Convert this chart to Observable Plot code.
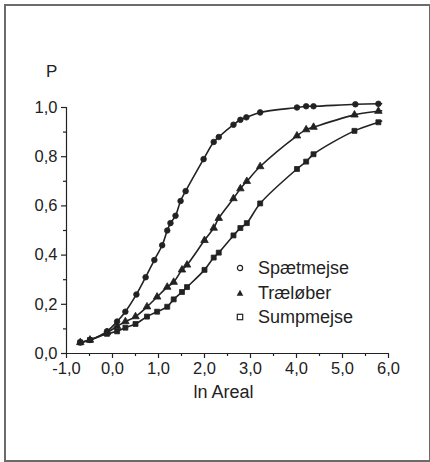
<!DOCTYPE html>
<html>
<head>
<meta charset="utf-8">
<script src="https://cdn.jsdelivr.net/npm/d3@7"></script>
<script src="https://cdn.jsdelivr.net/npm/@observablehq/plot@0.6"></script>
<style>
  html, body { margin: 0; padding: 0; background: #fff; }
  #wrap { position: relative; width: 430px; height: 462px; overflow: hidden; font-family: "Liberation Sans", Arial, sans-serif; }
  #frame { position: absolute; left: 4px; top: 4px; width: 427px; height: 458px; box-sizing: border-box; border: 2px solid #6b6b6b; }
  #ylab { position: absolute; left: 46px; top: 62px; font-size: 17px; color: #222; }
  #legend { position: absolute; left: 236px; top: 256px; font-size: 18px; color: #222; line-height: 24.5px; }
  #legend div { display: flex; align-items: center; }
  #legend svg { margin-right: 14px; }
</style>
</head>
<body>
<div id="wrap">
  <div id="frame"></div>
  <div id="chart"></div>
  <div id="ylab">P</div>
  <div id="legend"></div>
</div>
<script>
// Series names
const seriesNames = ["Spætmejse", "Træløber", "Sumpmejse"];

// Spætmejse (circles)
const spaetX = [-0.70, -0.49, -0.12, 0.10, 0.28, 0.52, 0.72, 0.91, 1.08, 1.19, 1.26, 1.37, 1.48, 1.59, 1.98, 2.20, 2.31, 2.63, 2.78, 2.91, 3.21, 4.01, 4.21, 4.37, 5.28, 5.78, 5.85];
const spaetY = [0.045, 0.055, 0.09, 0.13, 0.17, 0.24, 0.31, 0.38, 0.44, 0.50, 0.53, 0.56, 0.62, 0.66, 0.79, 0.86, 0.88, 0.93, 0.95, 0.96, 0.98, 1.00, 1.005, 1.005, 1.013, 1.015, 1.015];

// Træløber (triangles)
const traeX = [-0.70, -0.49, -0.12, 0.10, 0.28, 0.50, 0.75, 0.97, 1.19, 1.33, 1.51, 1.62, 2.00, 2.20, 2.31, 2.63, 2.78, 2.92, 3.21, 4.01, 4.21, 4.37, 5.26, 5.78, 5.85];
const traeY = [0.045, 0.055, 0.085, 0.11, 0.13, 0.15, 0.19, 0.23, 0.27, 0.29, 0.34, 0.36, 0.46, 0.51, 0.55, 0.63, 0.67, 0.70, 0.76, 0.885, 0.91, 0.92, 0.97, 0.985, 0.987];

// Sumpmejse (squares)
const sumpX = [-0.70, -0.49, -0.12, 0.10, 0.28, 0.50, 0.75, 0.97, 1.19, 1.33, 1.51, 1.62, 2.00, 2.20, 2.31, 2.63, 2.78, 2.92, 3.21, 4.01, 4.21, 4.37, 5.26, 5.78, 5.85];
const sumpY = [0.045, 0.055, 0.08, 0.09, 0.105, 0.12, 0.15, 0.17, 0.19, 0.22, 0.25, 0.27, 0.34, 0.39, 0.41, 0.48, 0.51, 0.53, 0.61, 0.75, 0.78, 0.81, 0.905, 0.94, 0.945];

// Tick values
const xTicks = [-1, 0, 1, 2, 3, 4, 5, 6];
const xMinorTicks = [-0.5, 0.5, 1.5, 2.5, 3.5, 4.5, 5.5];
const yTicks = [0, 0.2, 0.4, 0.6, 0.8, 1.0];
const yMinorTicks = [0.1, 0.3, 0.5, 0.7, 0.9];
const xLabel = "ln Areal";

const symbols = ["circle", "triangle", "square"];
const xs = [spaetX, traeX, sumpX];
const ys = [spaetY, traeY, sumpY];

const data = [];
seriesNames.forEach((s, i) => {
  xs[i].forEach((x, j) => data.push({series: s, x, y: ys[i][j], sym: symbols[i], last: j === xs[i].length - 1}));
});
const pts = data.filter(d => !d.last);

const fmt = d => d.toFixed(1).replace(".", ",");
const ink = "#222";

const chart = Plot.plot({
  width: 430,
  height: 462,
  marginLeft: 66,
  marginRight: 42,
  marginTop: 107,
  marginBottom: 109,
  style: {fontFamily: "'Liberation Sans', Arial, sans-serif", fontSize: "16px", color: ink, background: "transparent"},
  x: {domain: [-1, 6]},
  y: {domain: [0, 1]},
  symbol: {domain: symbols, range: symbols},
  marks: [
    Plot.ruleX([-1], {y1: 0, y2: 1, stroke: ink, strokeWidth: 1.2}),
    Plot.ruleY([0], {x1: -1, x2: 6, stroke: ink, strokeWidth: 1.2}),
    Plot.axisY(yTicks, {tickSize: 5, tickPadding: 4, tickFormat: fmt, stroke: ink, strokeWidth: 1.2, fill: ink, fontSize: 16.5, label: null}),
    Plot.axisY(yMinorTicks, {tickSize: 3, tickFormat: () => "", stroke: ink, strokeWidth: 1.2, label: null}),
    Plot.axisX(xTicks, {tickSize: 5, tickPadding: 4, tickFormat: fmt, stroke: ink, strokeWidth: 1.2, fill: ink, fontSize: 16.5, label: null}),
    Plot.axisX(xMinorTicks, {tickSize: 3, tickFormat: () => "", stroke: ink, strokeWidth: 1.2, label: null}),
    Plot.text([xLabel], {frameAnchor: "bottom", dx: -4, dy: 44, fill: ink, fontSize: 18}),
    Plot.line(data, {x: "x", y: "y", z: "series", stroke: ink, strokeWidth: 1.6, curve: "catmull-rom", clip: false}),
    Plot.dot(pts, {x: "x", y: "y", symbol: "sym", r: 2.8, fill: ink, stroke: ink, strokeWidth: 0.8})
  ]
});
document.getElementById("chart").appendChild(chart);

// Legend
const leg = document.getElementById("legend");
const legShapes = [
  '<svg width="8" height="8"><circle cx="4" cy="4" r="2.6" fill="none" stroke="#222" stroke-width="1.2"/></svg>',
  '<svg width="8" height="8"><path d="M4,0.8 L7.3,6.8 L0.7,6.8 Z" fill="#222"/></svg>',
  '<svg width="8" height="8"><rect x="1.3" y="1.3" width="5.4" height="5.4" fill="none" stroke="#222" stroke-width="1.2"/></svg>'
];
seriesNames.forEach((s, i) => {
  const row = document.createElement("div");
  row.innerHTML = legShapes[i] + "<span>" + s + "</span>";
  leg.appendChild(row);
});
</script>
</body>
</html>
